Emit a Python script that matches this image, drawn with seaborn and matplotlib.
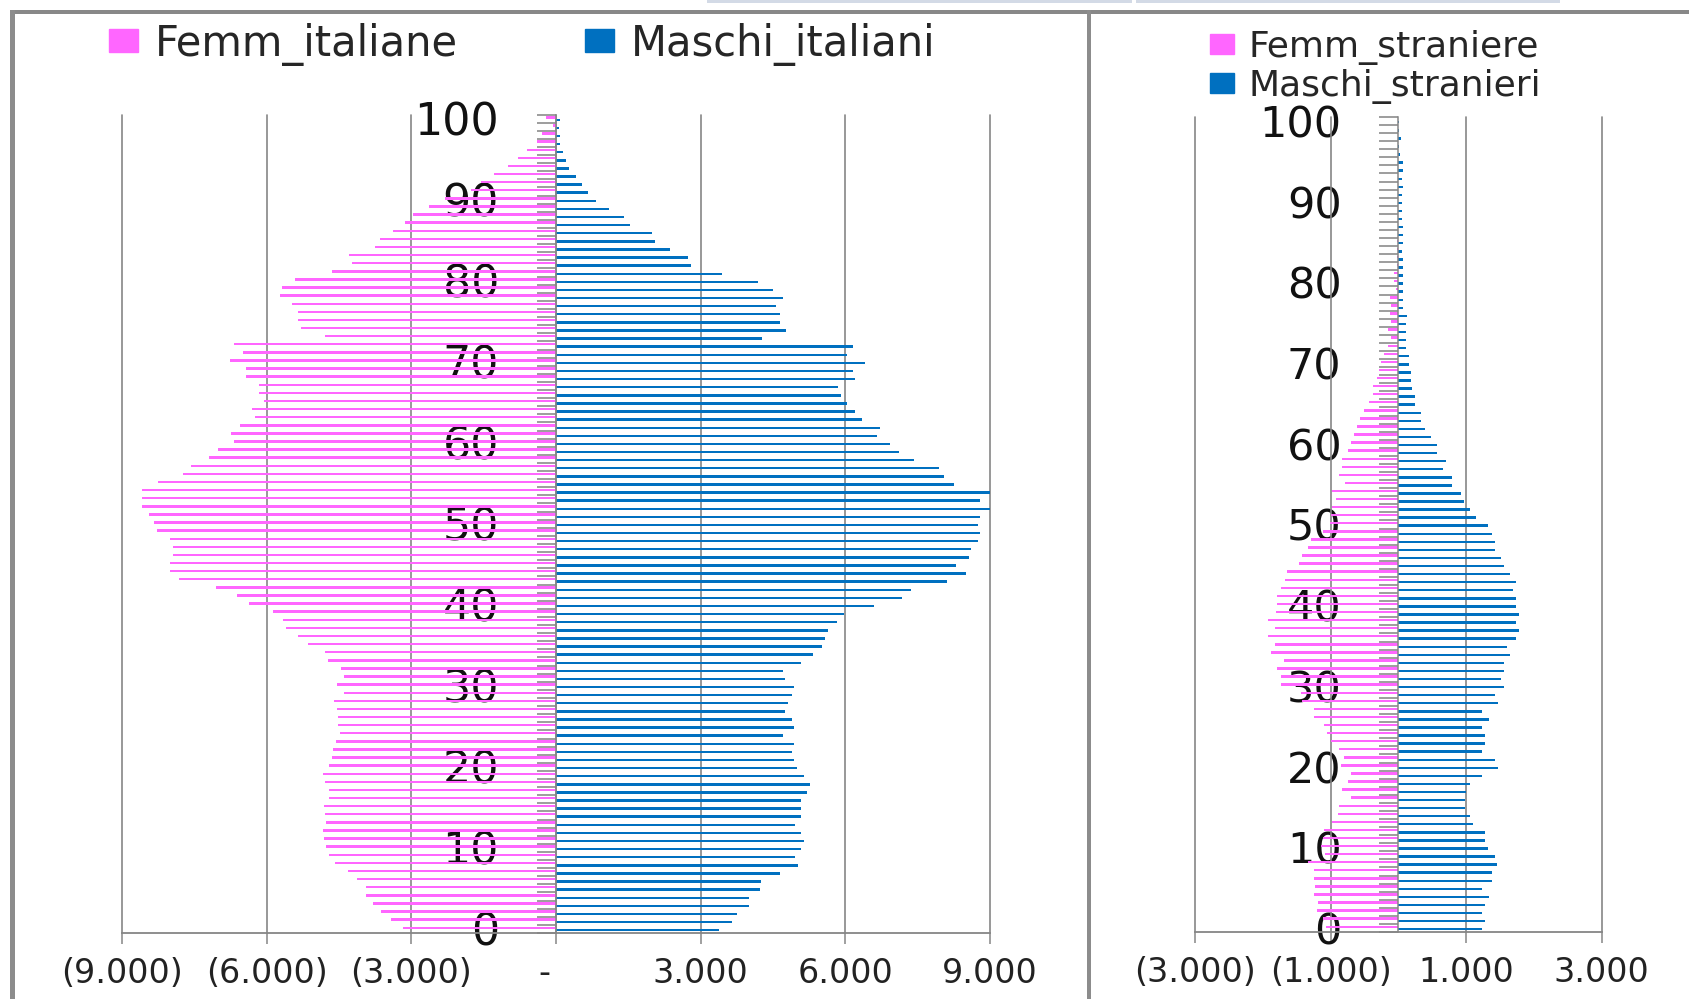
import numpy as np
import pandas as pd
import seaborn as sns
import matplotlib
matplotlib.use("Agg")
import matplotlib.pyplot as plt
from matplotlib.patches import Patch, Rectangle
from matplotlib.lines import Line2D
from matplotlib.ticker import FixedLocator, FuncFormatter

# ---- data: resident population by single year of age (0 .. 100+) ----
ages = list(range(0, 101))

femm_italiane = [
    3175, 3420, 3625, 3785, 3930, 3930, 4130, 4320, 4580, 4700,
    4770, 4820, 4830, 4770, 4795, 4820, 4710, 4710, 4795, 4830,
    4710, 4640, 4620, 4560, 4475, 4520, 4520, 4535, 4595, 4400,
    4535, 4400, 4460, 4735, 4795, 5150, 5355, 5605, 5665, 5865,
    6365, 6615, 7055, 7820, 8010, 8010, 7950, 7950, 8010, 8270,
    8330, 8450, 8580, 8580, 8580, 8260, 7745, 7570, 7200, 7000,
    6675, 6735, 6555, 6250, 6305, 6045, 6165, 6165, 6425, 6425,
    6750, 6485, 6675, 4795, 5295, 5355, 5355, 5475, 5725, 5675,
    5415, 4650, 4225, 4285, 3760, 3640, 3390, 3130, 2975, 2630,
    2300, 1760, 1545, 1285, 990, 785, 605, 390, 300, 70,
    215,
]
maschi_italiani = [
    3380, 3640, 3750, 4000, 4010, 4230, 4260, 4640, 5020, 4960,
    5080, 5140, 5080, 4960, 5080, 5080, 5080, 5200, 5260, 5140,
    5000, 4940, 4900, 4940, 4700, 4940, 4900, 4750, 4810, 4900,
    4940, 4750, 4700, 5080, 5320, 5520, 5580, 5640, 5830, 5975,
    6590, 7165, 7365, 8115, 8500, 8295, 8555, 8615, 8750, 8795,
    8750, 8795, 9030, 8795, 9010, 8250, 8055, 7935, 7425, 7105,
    6925, 6665, 6720, 6355, 6210, 6030, 5915, 5855, 6210, 6150,
    6415, 6030, 6150, 4270, 4760, 4640, 4640, 4570, 4700, 4510,
    4190, 3440, 2795, 2735, 2370, 2045, 1990, 1535, 1415, 1095,
    835, 655, 535, 415, 260, 200, 145, 85, 85, 60,
    85,
]
femm_straniere = [
    1070, 1120, 1205, 1195, 1245, 1235, 1245, 1245, 1330, 1090,
    1140, 1120, 1105, 975, 890, 875, 700, 835, 750, 700,
    850, 800, 875, 1000, 1050, 1105, 1245, 1245, 1420, 1440,
    1740, 1740, 1790, 1690, 1875, 1825, 1925, 1820, 1925, 1815,
    1790, 1790, 1740, 1680, 1650, 1465, 1420, 1330, 1285, 1120,
    1010, 1000, 980, 925, 975, 785, 875, 835, 835, 750,
    700, 650, 610, 565, 515, 430, 380, 380, 315, 280,
    255, 210, 160, 110, 160, 110, 120, 110, 120, 35,
    60, 60, 25, 20, 15, 15, 10, 10, 10, 5,
    5, 5, 0, 0, 0, 0, 0, 0, 0, 0,
    0,
]
maschi_stranieri = [
    1240, 1285, 1240, 1285, 1335, 1240, 1375, 1375, 1460, 1420,
    1325, 1285, 1285, 1100, 1055, 980, 980, 1000, 1055, 1240,
    1470, 1420, 1240, 1285, 1285, 1240, 1335, 1240, 1470, 1420,
    1560, 1510, 1560, 1560, 1645, 1605, 1735, 1785, 1735, 1785,
    1735, 1735, 1695, 1735, 1645, 1560, 1510, 1420, 1420, 1375,
    1325, 1150, 1055, 975, 925, 790, 790, 660, 700, 570,
    565, 475, 385, 335, 335, 250, 250, 200, 190, 190,
    160, 160, 115, 115, 115, 115, 120, 65, 60, 65,
    65, 65, 60, 65, 55, 60, 65, 65, 55, 55,
    55, 50, 65, 50, 65, 60, 20, 15, 45, 10,
    5,
]

age_labels = [str(a) for a in range(0, 101, 10)]
ticks_it = [-9000, -6000, -3000, 0, 3000, 6000, 9000]
ticks_st = [-3000, -1000, 1000, 3000]

PINK = "#FF66FF"
BLUE = "#0070C0"
GREY = "#868686"

sns.set_theme(style="white")
plt.rcParams["font.family"] = ["DejaVu Sans"]

W, H = 1690, 999
fig = plt.figure(figsize=(W / 100, H / 100), dpi=100)


def fx(px):
    return px / W


def fy(px):
    return 1 - px / H


def accounting(v, _pos=None):
    if abs(v) < 1e-9:
        return "-  "
    s = f"{abs(v):,.0f}".replace(",", ".")
    return f"({s})" if v < 0 else s


def pyramid(ax, fem, mas, fem_name, mas_name, xmax, xticks, ylab_size, ytick_pad):
    df = pd.DataFrame({
        "Età": ages * 2,
        "Popolazione": [-v for v in fem] + list(mas),
        "Serie": [fem_name] * len(ages) + [mas_name] * len(ages),
    })
    sns.barplot(
        data=df, y="Età", x="Popolazione", hue="Serie",
        order=ages, hue_order=[mas_name, fem_name],
        palette={fem_name: PINK, mas_name: BLUE},
        orient="h", dodge=True, width=0.6, saturation=1,
        errorbar=None, linewidth=0, legend=False, ax=ax,
    )
    ax.set_xlim(-xmax, xmax)
    ax.set_ylim(-0.5, 100.5)
    ax.set_xlabel("")
    ax.set_ylabel("")

    # value axis with vertical gridlines at each labelled value
    ax.xaxis.set_major_locator(FixedLocator(xticks))
    ax.xaxis.set_major_formatter(FuncFormatter(accounting))
    ax.tick_params(axis="x", which="major", direction="out", length=8,
                   width=1.1, color=GREY, pad=9, labelsize=24,
                   labelcolor="#222222", bottom=True)
    ax.grid(False)
    for xv in xticks:
        ax.add_line(Line2D([xv, xv], [-0.5, 100.5], color=GREY,
                           linewidth=1.2, zorder=0.6, clip_on=False))

    # age axis sits at zero
    for side in ("top", "right"):
        ax.spines[side].set_visible(False)
    ax.spines["left"].set_position(("data", 0))
    ax.spines["left"].set_color(GREY)
    ax.spines["left"].set_linewidth(1.1)
    ax.spines["bottom"].set_color(GREY)
    ax.spines["bottom"].set_linewidth(1.3)
    ax.set_yticks(range(0, 101, 10))
    ax.set_yticklabels(age_labels)
    ax.set_yticks(np.arange(-0.5, 101, 1.0), minor=True)
    ax.tick_params(axis="y", which="major", length=0, pad=ytick_pad,
                   labelsize=ylab_size, labelcolor="#111111", left=True)
    ax.tick_params(axis="y", which="minor", length=13.5, width=1.3,
                   color="#959595", direction="out", left=True)


ax_it = fig.add_axes([fx(122), fy(933), fx(990 - 122), (933 - 114.5) / H])
pyramid(ax_it, femm_italiane, maschi_italiani, "Femm_italiane", "Maschi_italiani",
        9000, ticks_it, 32, 41)

ax_st = fig.add_axes([fx(1195.3), fy(932), fx(1601.6 - 1195.3), (932 - 117) / H])
pyramid(ax_st, femm_straniere, maschi_stranieri, "Femm_straniere", "Maschi_stranieri",
        3000, ticks_st, 31, 41)

# legends
fig.legend(
    [Patch(color=PINK), Patch(color=BLUE)], ["Femm_italiane", "Maschi_italiani"],
    loc="center left", bbox_to_anchor=(fx(109), fy(44)), ncol=2, frameon=False,
    fontsize=30, handlelength=0.69, handleheight=0.47, handletextpad=0.4,
    columnspacing=3.06, borderpad=0, borderaxespad=0,
)
fig.legend(
    [Patch(color=PINK), Patch(color=BLUE)], ["Femm_straniere", "Maschi_stranieri"],
    loc="center left", bbox_to_anchor=(fx(1210), fy(67)), ncol=1, frameon=False,
    fontsize=26, handlelength=0.66, handleheight=0.46, handletextpad=0.4,
    labelspacing=0.12, borderpad=0, borderaxespad=0,
)

# panel frames and header strip
def frame_rect(x0, y0, x1, y1, color):
    fig.add_artist(Rectangle((fx(x0), fy(y1)), fx(x1 - x0), (y1 - y0) / H,
                             transform=fig.transFigure, facecolor=color,
                             edgecolor="none", zorder=0))

frame_rect(707, 0, 1132, 3, "#D3DAE6")
frame_rect(1136, 0, 1560, 3, "#D3DAE6")
frame_rect(10, 10, W, 14, "#888888")
frame_rect(10, 10, 15, H, "#8C8C8C")
frame_rect(1087, 10, 1091, H, "#8C8C8C")

fig.savefig("out.png", dpi=100, facecolor="white")
